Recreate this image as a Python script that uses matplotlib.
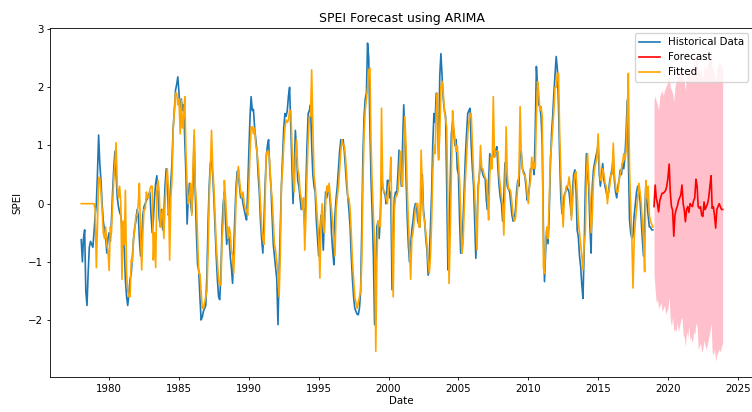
import numpy as np
import pandas as pd
import matplotlib
matplotlib.use("Agg")
import matplotlib.pyplot as plt
import matplotlib.dates as mdates

# SPEI mensual observado (ene-1978 .. dic-2018), una fila por año
spei_hist = [
    -0.62, -1.0, -0.6, -0.45, -1.5, -1.75, -1.2, -0.75, -0.65, -0.7, -0.75, -0.5,
    -0.2, 0.0, 0.5, 1.18, 0.7, 0.4, 0.0, -0.3, -0.45, -0.55, -0.85, -0.6,
    -0.5, -0.65, -0.3, 0.2, 0.6, 0.9, 0.5, 0.1, -0.05, -0.15, -0.2, -0.4,
    -0.55, -0.8, -1.3, -1.6, -1.75, -1.55, -1.3, -1.2, -0.9, -0.6, -0.4, -0.3,
    -0.1, -0.2, -0.6, -0.9, -0.6, -0.2, -0.05, 0.0, 0.05, 0.1, 0.15, 0.2,
    -0.2, -0.5, -0.3, 0.1, 0.35, 0.48, 0.2, -0.25, -0.4, -0.1, -0.45, -0.2,
    0.3, 0.6, 0.4, -0.2, 0.0, 0.35, 0.7, 1.3, 1.6, 1.95, 2.05, 2.18,
    1.9, 1.5, 1.8, 1.6, 1.7, 1.1, 0.5, -0.35, 0.1, 0.35, 0.0, -0.15,
    0.3, 1.15, 0.2, -0.5, -1.05, -1.15, -1.6, -2.0, -1.95, -1.85, -1.8, -1.75,
    -1.2, -0.3, 0.3, 0.7, 0.75, 0.5, 0.1, -0.4, -0.9, -1.3, -1.6, -1.65,
    -1.2, -0.4, 0.0, 0.2, -0.3, -0.7, -0.5, -0.6, -0.9, -1.1, -1.37, -0.8,
    -0.2, 0.3, 0.55, 0.58, 0.3, 0.1, 0.15, 0.0, -0.1, -0.2, -0.28, 0.2,
    0.9, 1.5, 1.84, 1.6, 1.62, 1.3, 1.1, 0.9, 0.5, 0.2, -0.3, -0.6,
    -0.85, -0.3, 0.3, 0.8, 1.0, 1.1, 0.6, 0.3, -0.2, -0.7, -0.9, -1.1,
    -1.3, -2.08, -1.2, -0.4, 0.3, 0.8, 1.3, 1.55, 1.5, 1.6, 1.85, 2.0,
    1.3, 0.6, 0.0, 0.6, 1.26, 0.9, 0.4, 0.3, 0.1, -0.1, 0.0, -0.1,
    -0.4, 0.3, 1.0, 1.55, 1.6, 1.7, 1.0, 0.5, 0.3, 0.2, -0.3, -0.6,
    -0.9, -0.5, -0.2, -0.4, -0.8, -0.2, 0.2, 0.1, 0.3, 0.2, 0.0, -0.5,
    -0.8, -1.05, -0.2, 0.1, 0.3, 0.6, 0.9, 1.1, 1.05, 1.1, 0.9, 0.6,
    0.3, 0.1, -0.1, -0.4, -0.9, -1.3, -1.6, -1.8, -1.85, -1.9, -1.91, -1.8,
    -1.5, -0.4, 0.8, 1.5, 1.8, 1.9, 2.76, 2.5, 1.3, 0.4, -0.2, -0.9,
    -2.08, -1.3, -0.4, -0.3, -0.6, -0.2, 0.5, 0.3, 0.2, 0.15, 0.0, 0.4,
    0.4, 0.1, 0.2, -1.48, -0.5, 0.1, 0.2, 0.15, 0.5, 0.92, 0.6, 0.3,
    1.0, 1.7, 1.2, 0.5, -0.2, -0.7, -1.0, -0.7, -0.45, -0.3, -0.1, 0.0,
    0.0, -0.3, -0.35, -0.4, 0.2, 0.5, -0.1, -0.3, -0.6, -0.8, -1.23, -0.9,
    -0.4, 0.2, 1.0, 1.55, 1.4, 1.9, 1.5, 0.8, 2.2, 2.58, 2.2, 1.8,
    1.6, 1.5, 0.3, -1.14, -0.8, 0.4, 1.2, 1.4, 1.26, 1.0, 1.1, 0.6,
    0.5, -0.3, -0.85, -0.85, -0.3, 0.3, 0.8, 1.2, 1.55, 1.6, 1.64, 1.0,
    0.6, 0.3, -0.3, -0.94, -0.3, 0.3, 0.5, 0.7, 0.6, 0.5, 0.45, 0.45,
    0.06, -0.1, 0.4, 0.86, 0.6, 0.8, 0.9, 0.8, 0.9, 0.98, 0.6, 0.3,
    0.1, 0.0, -0.3, 0.1, 0.7, 0.5, 0.3, 0.25, 0.2, 0.0, -0.2, -0.3,
    -0.28, -0.1, 0.2, 0.4, 0.3, 0.9, 0.9, 0.6, 0.55, 0.5, 0.3, 0.06,
    0.15, 0.3, 0.6, 0.6, 0.7, 0.5, 1.2, 2.36, 2.0, 1.7, 1.67, 1.5,
    1.0, -0.5, -1.34, -0.8, -0.45, -0.69, -0.2, 0.64, 1.2, 1.5, 1.9, 2.2,
    2.53, 2.3, 1.7, 0.8, 0.1, -0.17, 0.0, 0.15, 0.2, 0.3, 0.25, 0.2,
    0.0, -0.2, 0.2, 0.5, 0.58, 0.3, -0.45, -0.57, -0.9, -1.08, -1.4, -1.63,
    -0.8, 0.3, 0.86, 0.5, 0.3, -0.4, -0.85, 0.3, 0.58, 0.7, 0.8, 0.9,
    1.0, 0.5, 0.3, 0.5, 0.69, 0.4, 0.3, 0.2, 0.1, 0.2, 0.4, 0.5,
    0.6, 0.8, 0.4, 0.2, 0.1, 0.3, 0.4, 0.58, 0.5, 0.7, 0.6, 0.8,
    1.2, 1.78, 0.8, -0.28, -0.5, -0.6, -0.55, -0.2, 0.0, 0.2, 0.3, 0.2,
    0.06, -0.3, -0.6, -0.9, -0.2, 0.3, 0.0, -0.2, -0.4, -0.4, -0.45, -0.45,
]

# valores ajustados del modelo (mismas fechas)
spei_fitted = [
    0, 0, 0, 0, 0, 0, 0, 0, 0, 0, 0, 0,
    -0.1, -1.1, -0.4, 0.45, 0.45, 0.2, -0.1, -0.5, -0.6, -0.4, -0.7, -0.8,
    -1.15, -0.4, -0.5, 0.0, 0.4, 0.7, 1.05, 0.3, 0.1, 0.3, 0.0, -1.3,
    -0.3, -0.7, 0.23, -1.2, -1.5, -1.6, -1.6, -0.97, -1.0, -0.6, -0.45, -0.2,
    -0.2, 0.0, 0.35, -0.5, -1.14, -0.5, -0.1, -0.1, 0.2, 0.1, 0.1, 0.25,
    0.3, 0.3, -0.97, -0.5, -1.1, 0.2, 0.4, 0.2, -0.4, -0.2, -0.1, -0.6,
    0.0, 0.35, 0.6, 0.2, -0.97, 0.1, 0.4, 1.27, 1.6, 1.9, 1.9, 1.7,
    1.8, 1.2, 1.78, 1.3, 1.5, 1.84, 0.9, 0.3, 0.0, 0.1, 0.35, -0.2,
    0.6, 1.27, 0.3, 0.0, -0.6, -1.2, -1.2, -1.5, -1.8, -1.8, -1.7, -1.6,
    -1.5, -0.8, 0.1, 0.6, 1.26, 0.6, 0.3, -0.2, -0.7, -1.0, -1.3, -1.4,
    -1.4, -0.6, -0.3, 0.4, 0.1, -0.3, -0.6, -0.4, -0.5, -0.8, -0.9, -1.2,
    -0.6, 0.1, 0.4, 0.64, 0.4, 0.2, 0.1, 0.2, 0.0, -0.1, -0.1, -0.2,
    0.3, 0.9, 1.32, 1.32, 1.2, 1.3, 1.0, 0.9, 0.7, 0.4, 0.0, -0.4,
    -0.6, -0.7, 0.0, 0.86, 0.9, 0.9, 0.7, 0.3, 0.1, -0.3, -0.7, -0.8,
    -1.0, -1.2, -1.6, -0.9, 0.3, 0.6, 1.0, 1.3, 1.44, 1.4, 1.44, 1.6,
    1.6, 1.0, 0.5, 0.2, 0.8, 1.1, 0.6, 0.5, 0.2, 0.1, -0.1, 0.1,
    -0.8, -0.2, 0.5, 1.1, 1.5, 1.5, 2.3, 1.3, 0.5, 0.3, 0.0, -0.3,
    -0.6, -1.28, -0.3, 0.0, -0.4, -0.5, 0.0, 0.3, 0.2, 0.35, 0.1, -0.1,
    -0.3, -0.6, -0.9, -0.1, 0.12, 0.3, 0.6, 0.9, 1.1, 1.0, 1.0, 0.8,
    0.5, 0.1, 0.1, -0.1, -0.5, -1.0, -1.3, -1.6, -1.7, -1.8, -1.7, -1.6,
    -1.5, -1.0, 0.3, 1.2, 1.6, 1.8, 2.0, 2.3, 2.33, 1.0, 0.3, -0.2,
    -0.7, -2.54, -1.0, -0.3, -0.3, -0.4, 1.64, 0.3, 0.2, 0.2, 0.1, 0.0,
    0.3, 0.4, 0.8, -0.4, -1.6, -0.1, 0.1, 0.15, 0.2, 0.5, 0.9, 0.4,
    0.3, 1.0, 1.5, 1.0, 0.3, -0.3, -0.8, -1.3, -0.6, -0.5, -0.3, -0.1,
    0.0, 0.0, -0.4, -0.4, 0.92, 0.3, -0.2, -0.3, -0.5, -0.7, -1.0, -1.2,
    -0.9, -0.3, 0.5, 1.0, 0.86, 1.6, 1.9, 0.75, 1.2, 2.0, 2.1, 1.9,
    1.6, 1.44, 1.3, 0.0, -1.37, -0.5, 0.5, 1.6, 1.3, 1.1, 0.9, 1.0,
    0.7, 0.4, -0.2, -0.85, -0.7, -0.1, 0.4, 0.8, 1.2, 1.4, 1.55, 1.55,
    1.0, 0.5, 0.2, -0.3, -0.8, 0.2, 0.5, 1.0, 0.6, 0.6, 0.5, 0.45,
    0.4, 0.1, -0.28, 0.5, 0.8, 0.6, 1.84, 0.8, 0.9, 0.9, 0.9, 0.5,
    0.3, 0.1, 0.0, -0.54, 0.2, 1.32, 0.5, 0.25, 0.25, 0.2, 0.0, -0.2,
    -0.3, -0.25, 0.0, 0.3, 0.5, 1.67, 0.86, 0.6, 0.5, 0.5, 0.4, 0.2,
    0.0, 0.3, 0.4, 0.8, 0.6, 0.7, 0.6, 1.5, 2.1, 1.9, 1.6, 1.67,
    1.5, -1.1, -1.2, -0.6, -0.4, -0.6, 0.0, 0.8, 1.0, 1.3, 1.6, 2.0,
    2.0, 2.24, 2.24, 1.2, 0.5, 0.0, -0.4, 0.1, 0.2, 0.3, 0.3, 0.46,
    0.3, -0.28, 0.0, 0.3, 0.5, 0.55, 0.2, -0.3, -0.5, -0.7, -0.9, -1.14,
    -0.7, -0.5, 0.5, 0.86, 0.4, 0.1, -0.5, -0.2, 0.4, 0.6, 0.7, 0.8,
    1.2, 0.7, 0.4, 0.4, 0.6, 0.5, 0.35, 0.3, 0.0, 0.2, 0.3, 0.5,
    0.5, 1.04, 0.5, 0.3, 0.2, 0.2, 0.4, 0.5, 0.6, 0.7, 0.86, 0.75,
    0.9, 1.5, 2.24, 0.6, -0.05, -0.6, -1.45, -0.6, -0.3, -0.1, 0.1, 0.35,
    0.2, 0.0, -0.3, -0.6, -1.17, 0.4, 0.1, 0.3, -0.2, -0.3, -0.35, -0.4,
]

# pronóstico ene-2019 .. dic-2023 e intervalo de confianza
spei_forecast = [
    -0.05, 0.32, 0.1, 0.0, -0.14, 0.05, 0.12, 0.18, 0.18, 0.2, 0.23, 0.3,
    0.45, 0.68, 0.2, -0.05, -0.11, -0.56, -0.2, -0.1, -0.05, 0.05, 0.1, 0.15,
    0.32, 0.0, -0.1, -0.31, -0.1, -0.05, -0.15, 0.0, -0.03, -0.05, 0.05, 0.1,
    0.42, 0.3, -0.05, -0.08, -0.05, -0.2, -0.22, 0.03, -0.1, -0.05, 0.0, 0.1,
    0.3, 0.48, -0.08, -0.05, -0.2, -0.42, -0.1, -0.05, 0.0, -0.05, -0.1, -0.1,
]
ci_lower = [
    -1.2, -1.5, -1.7, -1.65, -1.8, -1.75, -1.7, -1.85, -1.8, -1.75, -1.9, -1.85,
    -1.8, -1.6, -2.0, -2.1, -1.95, -2.2, -2.15, -2.2, -2.05, -2.2, -2.1, -2.0,
    -1.95, -2.25, -2.3, -2.45, -2.2, -2.3, -2.1, -2.35, -2.3, -2.4, -2.2, -2.25,
    -2.05, -2.1, -2.5, -2.45, -2.4, -2.55, -2.5, -2.35, -2.45, -2.5, -2.4, -2.3,
    -2.2, -2.05, -2.55, -2.6, -2.5, -2.71, -2.6, -2.55, -2.5, -2.55, -2.45, -2.4,
]
ci_upper = [
    1.78, 1.85, 1.75, 1.7, 1.6, 1.85, 1.9, 1.95, 1.85, 1.95, 2.0, 2.05,
    2.1, 2.25, 2.0, 1.95, 1.9, 1.75, 2.0, 2.1, 2.15, 2.2, 2.25, 2.3,
    2.35, 2.2, 2.1, 1.95, 2.2, 2.25, 2.2, 2.3, 2.35, 2.3, 2.4, 2.45,
    2.55, 2.5, 2.3, 2.25, 2.35, 2.2, 2.15, 2.4, 2.3, 2.35, 2.4, 2.45,
    2.5, 2.6, 2.35, 2.3, 2.2, 2.1, 2.3, 2.4, 2.45, 2.4, 2.35, 2.35,
]

fechas_hist = pd.date_range("1978-01-01", periods=len(spei_hist), freq="MS")
fechas_fit = pd.date_range("1978-01-01", periods=len(spei_fitted), freq="MS")
fechas_fc = pd.date_range("2019-01-01", periods=len(spei_forecast), freq="MS")

W, H = 752, 412
fig = plt.figure(figsize=(W / 100, H / 100), dpi=100)
# ejes: izq 50px, der ~753px, arriba 28px, abajo 377px
ax = fig.add_axes([50 / W, (H - 377) / H, 703 / W, 349 / H])

fs = 7.4
lw = 1.2
ax.plot(fechas_hist, spei_hist, color="#1f77b4", lw=lw, label="Historical Data")
ax.plot(fechas_fc, spei_forecast, color="red", lw=lw, label="Forecast")
ax.fill_between(fechas_fc, ci_lower, ci_upper, color="pink", lw=0)
ax.plot(fechas_fit, spei_fitted, color="orange", lw=lw, label="Fitted")

ax.set_xlim(pd.Timestamp("1975-10-08"), pd.Timestamp("2026-02-01"))
ax.set_ylim(-2.98, 3.02)
ax.set_yticks([-2, -1, 0, 1, 2, 3])
ax.xaxis.set_major_locator(mdates.YearLocator(5))
ax.xaxis.set_major_formatter(mdates.DateFormatter("%Y"))
ax.tick_params(labelsize=fs, length=2.4, width=0.6, pad=2.4)
for s in ax.spines.values():
    s.set_linewidth(0.6)

ax.set_title("SPEI Forecast using ARIMA", fontsize=9, pad=4)
ax.set_xlabel("Date", fontsize=fs, labelpad=2)
ax.set_ylabel("SPEI", fontsize=fs, labelpad=4)

ax.legend(loc="upper right", bbox_to_anchor=(748 / W, (H - 33) / H),
          bbox_transform=fig.transFigure, borderaxespad=0, fontsize=fs,
          handlelength=2.0, frameon=True, framealpha=0.8)

fig.savefig("out.png", dpi=100)
